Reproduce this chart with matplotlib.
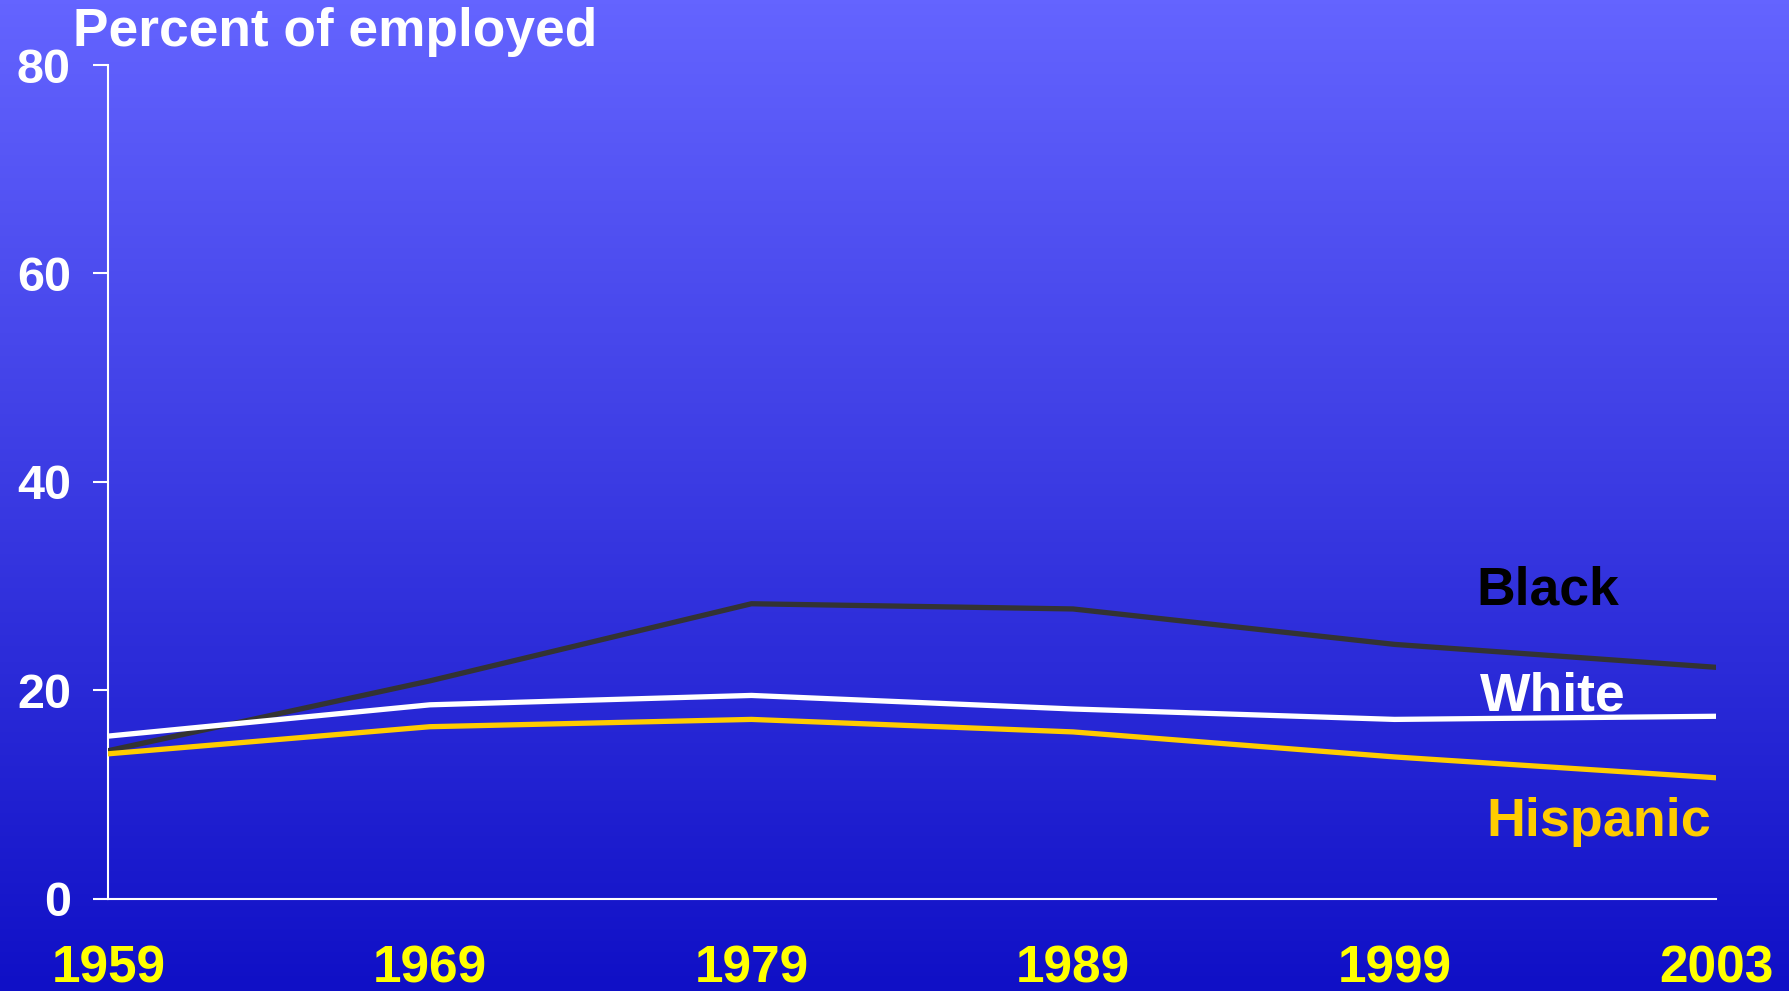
import numpy as np
import matplotlib
matplotlib.use('Agg')
import matplotlib.pyplot as plt
from matplotlib.colors import LinearSegmentedColormap

plt.rcParams['font.family'] = ['Liberation Sans', 'DejaVu Sans']
plt.rcParams['font.weight'] = 'bold'

years = ['1959', '1969', '1979', '1989', '1999', '2003']
black = [14.2, 20.9, 28.3, 27.8, 24.4, 22.2]
white = [15.6, 18.6, 19.5, 18.2, 17.2, 17.5]
hispanic = [13.9, 16.5, 17.2, 16.0, 13.6, 11.6]
yticks = [0, 20, 40, 60, 80]

fig = plt.figure(figsize=(17.89, 9.91), dpi=100)

# vertical gradient background
bg = fig.add_axes([0, 0, 1, 1], zorder=-10)
grad = np.linspace(0, 1, 256).reshape(-1, 1)
cmap = LinearSegmentedColormap.from_list('bg', ['#1010C6', '#6464FF'])
bg.imshow(grad, aspect='auto', cmap=cmap, origin='lower', extent=[0, 1, 0, 1])
bg.axis('off')

ax = fig.add_axes([0.0606, 0.0932, 0.8986, 0.8412])
ax.patch.set_visible(False)

x = np.arange(len(years))
ax.plot(x, black, color='#333333', lw=3.8, solid_capstyle='round', zorder=3)
ax.plot(x, white, color='white', lw=3.8, solid_capstyle='round', zorder=3)
ax.plot(x, hispanic, color='#FFCC00', lw=3.8, solid_capstyle='round', zorder=3)

ax.set_xlim(0, 5)
ax.set_ylim(0, 80)
ax.set_xticks(x)
ax.set_xticklabels(years)
ax.set_yticks(yticks)

for s in ['top', 'right']:
    ax.spines[s].set_visible(False)
for s in ['left', 'bottom']:
    ax.spines[s].set_color('white')
    ax.spines[s].set_linewidth(1.5)

ax.tick_params(axis='x', length=0, pad=33, labelsize=37, labelcolor='#FFFF00')
ax.tick_params(axis='y', length=11, width=1.5, color='white', pad=16,
               labelsize=35, labelcolor='white')
for lab in ax.get_xticklabels() + ax.get_yticklabels():
    lab.set_fontweight('bold')

ax.text(4.255, 28.2, 'Black', color='black', fontsize=38.5, fontweight='bold', va='baseline')
ax.text(4.265, 18.1, 'White', color='white', fontsize=38.5, fontweight='bold', va='baseline')
ax.text(4.285, 6.0, 'Hispanic', color='#FFCC00', fontsize=38.8, fontweight='bold', va='baseline')

fig.text(73 / 1789, 1 - 46 / 991, 'Percent of employed', color='white',
         fontsize=38.3, fontweight='bold', va='baseline', ha='left')

fig.savefig('out.png', dpi=100)
